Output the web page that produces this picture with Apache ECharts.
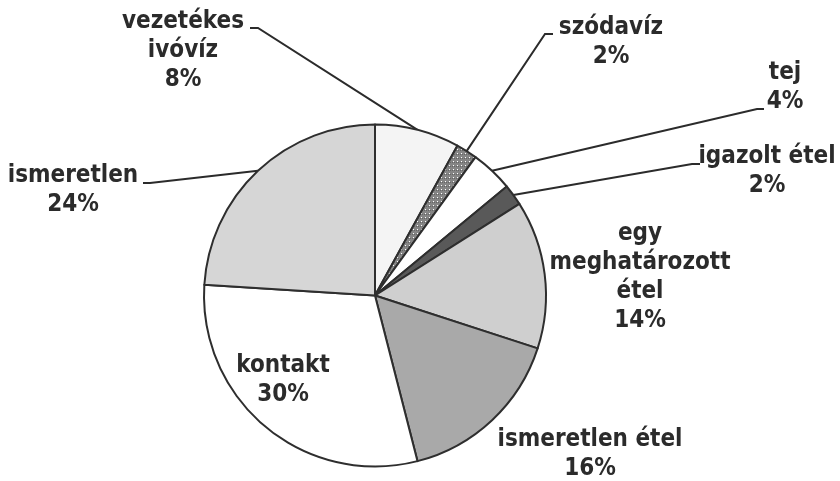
<!DOCTYPE html>
<html>
<head>
<meta charset="utf-8">
<script src="https://cdn.jsdelivr.net/npm/echarts@6/dist/echarts.min.js"></script>
<style>
  html, body { margin: 0; padding: 0; background: #fff; }
  #chart { width: 840px; height: 481px; }
</style>
</head>
<body>
<div id="chart"></div>
<script>
// Slice names (line breaks are where the labels wrap) and shares in percent
var categories = [
  'vezetékes\nivóvíz',
  'szódavíz',
  'tej',
  'igazolt étel',
  'egy\nmeghatározott\nétel',
  'ismeretlen étel',
  'kontakt',
  'ismeretlen'
];
var shares = [8, 2, 4, 2, 14, 16, 30, 24];

// Slice fills, in the same order
var fills = ['#f4f4f4', 'PATTERN', '#ffffff', '#595959', '#cfcfcf', '#a9a9a9', '#ffffff', '#d6d6d6'];

// Where each label block is centred, and where its leader line bends
var labelCenters = [[183, 51], [611, 42], [785, 87], [767, 171], [640, 277], [590, 454], [283, 380], [73, 190]];
var leaderEnds = [
  [[258, 28], [250, 28]],
  [[545, 34], [553, 34]],
  [[757, 109], [764, 109]],
  [[692, 164], [700, 164]],
  null,
  null,
  null,
  [[150, 183], [143, 183]]
];

// Dotted fill for the narrow soda-water slice
function dotPattern() {
  var c = document.createElement('canvas');
  c.width = 4; c.height = 4;
  var g = c.getContext('2d');
  g.fillStyle = '#858585';
  g.fillRect(0, 0, 4, 4);
  g.fillStyle = '#666666';
  g.fillRect(2, 2, 1, 1);
  g.fillRect(0, 2, 1, 1);
  g.fillStyle = '#ffffff';
  g.fillRect(1, 1, 1, 1);
  return { image: c, repeat: 'repeat' };
}

var pieData = categories.map(function (name, i) {
  var fill = fills[i] === 'PATTERN' ? dotPattern() : fills[i];
  return {
    name: name,
    value: shares[i],
    itemStyle: { color: fill },
    labelLine: { show: !!leaderEnds[i] }
  };
});

var chart = echarts.init(document.getElementById('chart'), null, { renderer: 'canvas' });
chart.setOption({
  backgroundColor: '#ffffff',
  animation: false,
  series: [{
    type: 'pie',
    center: [375, 295.5],
    radius: 171,
    startAngle: 90,
    clockwise: true,
    avoidLabelOverlap: false,
    data: pieData,
    itemStyle: { borderColor: '#2e2e2e', borderWidth: 2 },
    emphasis: { disabled: true },
    label: {
      show: true,
      position: 'outside',
      formatter: '{b}\n{c}%',
      fontFamily: 'DejaVu Sans Condensed',
      fontWeight: 'bold',
      fontSize: 24,
      lineHeight: 29,
      color: '#2b2b2b',
      align: 'center'
    },
    labelLine: {
      show: true,
      length: 20,
      length2: 10,
      smooth: false,
      lineStyle: { color: '#2b2b2b', width: 2 }
    },
    labelLayout: function (p) {
      var i = p.dataIndex;
      var out = {
        x: labelCenters[i][0],
        y: labelCenters[i][1],
        align: 'center',
        verticalAlign: 'middle'
      };
      if (leaderEnds[i] && p.labelLinePoints) {
        out.labelLinePoints = [p.labelLinePoints[0], leaderEnds[i][0], leaderEnds[i][1]];
      }
      return out;
    }
  }]
});
</script>
</body>
</html>
